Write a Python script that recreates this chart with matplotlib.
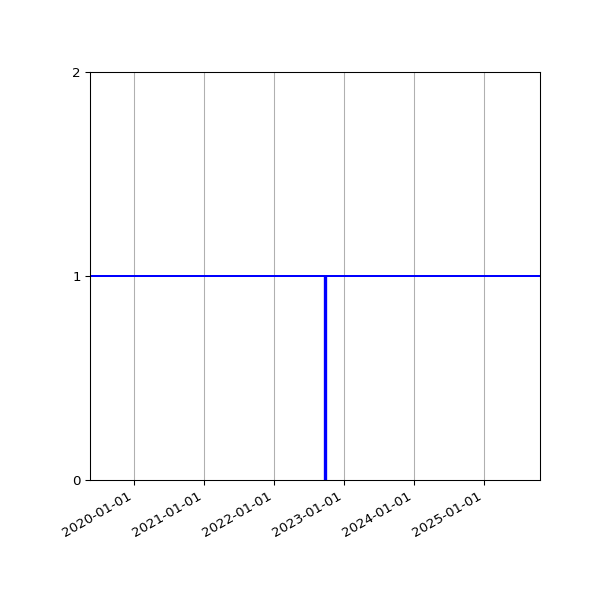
import matplotlib
matplotlib.use("Agg")
import matplotlib.pyplot as plt
import matplotlib.dates as mdates
import numpy as np

# data
x_range = np.array(["2019-05-18", "2025-10-20"], dtype="datetime64[D]")
level = 1
event_date = np.datetime64("2022-09-24")
event_height = 1
y_ticks = [0, 1, 2]

fig, ax = plt.subplots(figsize=(6.25, 6.25), dpi=96)

ax.axhline(level, color="blue", linewidth=1.5)
ax.vlines(event_date, 0, event_height, color="blue", linewidth=2.5)

ax.set_xlim(x_range[0], x_range[1])
ax.set_ylim(0, 2)
ax.set_yticks(y_ticks)
ax.xaxis.set_major_locator(mdates.YearLocator())
ax.xaxis.set_major_formatter(mdates.DateFormatter("%Y-%m-%d"))
ax.grid(True, axis="x")

fig.autofmt_xdate()
fig.subplots_adjust(left=0.15)
plt.savefig("out.png")
